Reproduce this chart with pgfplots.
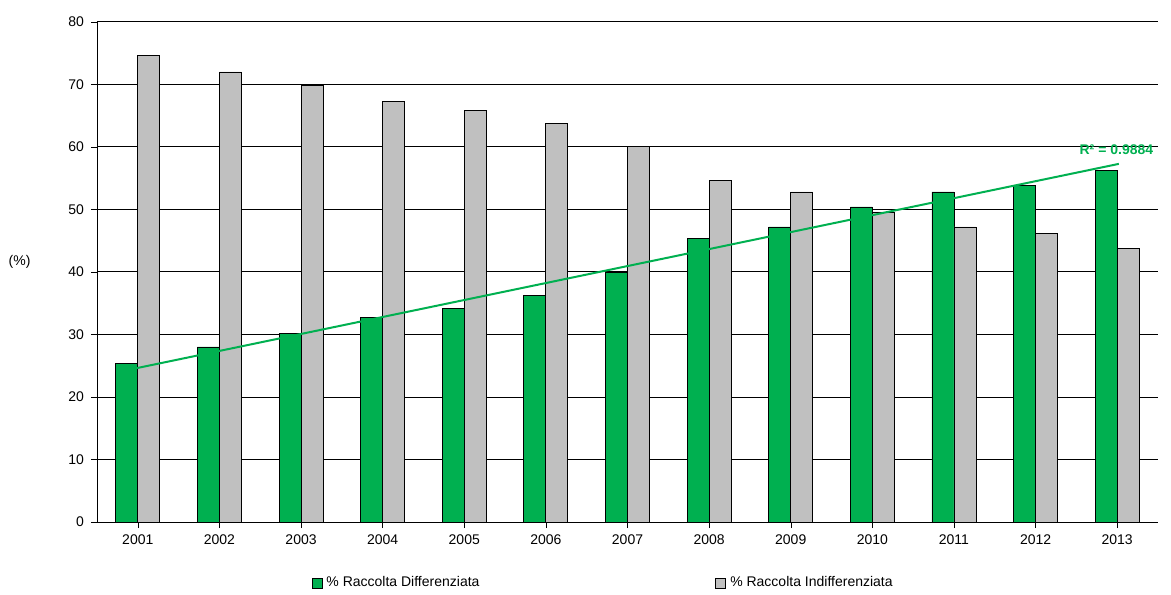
\documentclass[border=0pt]{standalone}
\usepackage{pgfplots}
\pgfplotsset{compat=1.18}
\usepackage{fontspec}
\setmainfont{Liberation Sans}
\definecolor{gr}{RGB}{0,176,80}
\definecolor{gy}{RGB}{192,192,192}
\begin{document}
\begin{tikzpicture}
\begin{axis}[
  width=530.5pt, height=250pt, scale only axis,
  axis lines=left, axis line style={-, black},
  xmin=-0.5, xmax=12.5, ymin=0, ymax=80,
  ytick={0,10,...,80}, xtick={0,...,12},
  xticklabels={2001,2002,2003,2004,2005,2006,2007,2008,2009,2010,2011,2012,2013},
  ymajorgrids, grid style={black, line width=0.5pt},
  tick align=outside, tick style={black}, major tick length=3pt,
  ybar=0pt, bar width=11pt,
  tick label style={font=\fontsize{7}{8}\selectfont},
  /pgf/number format/assume math mode=true,
  ylabel={(\%)}, ylabel style={rotate=-90, anchor=center, font=\fontsize{7}{8}\selectfont, at={(-0.073,0.52)}},
  legend style={at={(0.478,-0.122)}, anchor=center, draw=none, legend columns=2,
    font=\fontsize{7}{8}\selectfont,
    /tikz/every even column/.append style={column sep=116pt}},
  legend image code/.code={\draw[#1,draw=black] (0cm,-2.5pt) rectangle (5pt,2.5pt);},
]
\addplot[fill=gr, draw=black] coordinates {(0,25.3)(1,28.0)(2,30.1)(3,32.7)(4,34.2)(5,36.3)(6,39.9)(7,45.4)(8,47.2)(9,50.4)(10,52.8)(11,53.9)(12,56.2)};
\addplot[fill=gy, draw=black] coordinates {(0,74.7)(1,72.0)(2,69.9)(3,67.3)(4,65.8)(5,63.7)(6,60.1)(7,54.6)(8,52.8)(9,49.6)(10,47.2)(11,46.1)(12,43.8)};
\legend{\% Raccolta Differenziata, \% Raccolta Indifferenziata}
\addplot[sharp plot, gr, line width=1pt, forget plot] coordinates {(-0.02,24.6)(12.02,57.3)};
\node[font=\bfseries\fontsize{7}{8}\selectfont, text=gr, anchor=east, inner sep=1pt] at (axis cs:12.47,59.5) {R² = 0.9884};
\end{axis}
\pgfresetboundingbox
\path (current axis.south west)++(-48.5pt,-36pt) coordinate (bl);
\path (current axis.north east)++(6.5pt,11pt) coordinate (tr);
\useasboundingbox (bl) rectangle (tr);
\end{tikzpicture}
\end{document}
